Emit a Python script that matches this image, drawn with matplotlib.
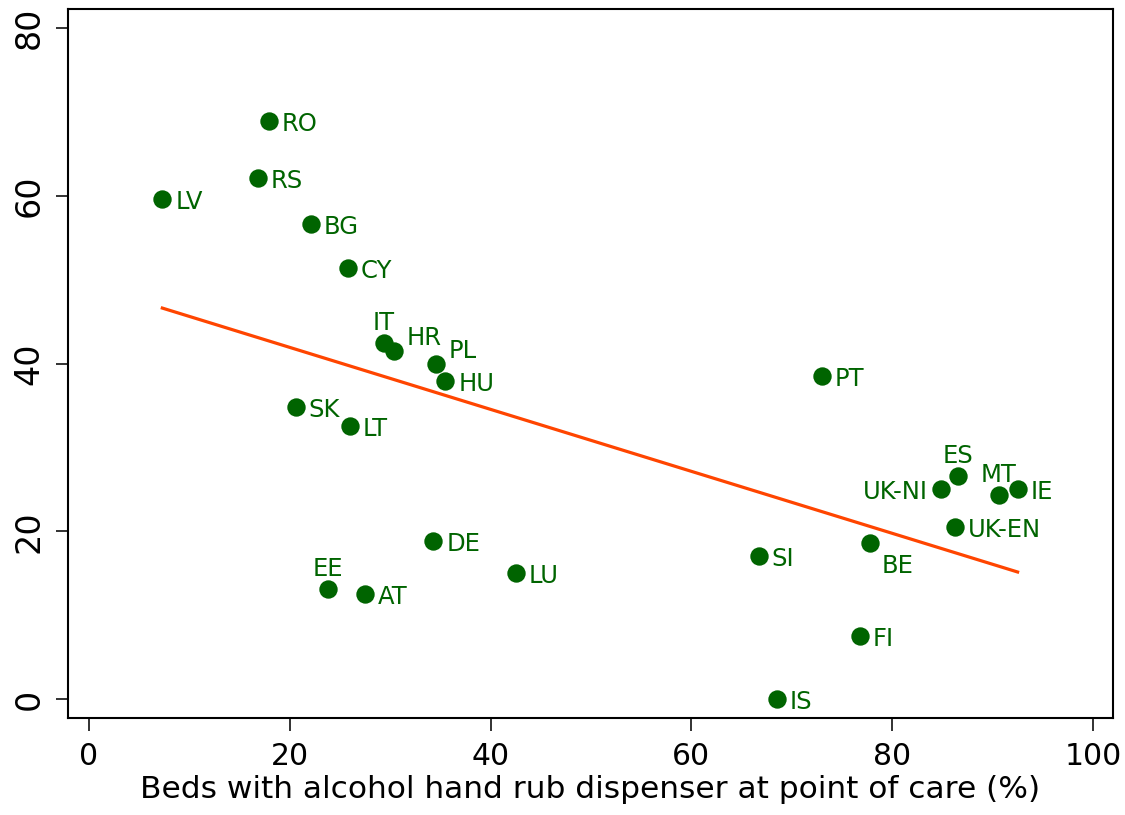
import numpy as np
import matplotlib
matplotlib.use("Agg")
import matplotlib.pyplot as plt

plt.rcParams["font.family"] = ["DejaVu Sans"]

countries = ["RO", "RS", "LV", "BG", "CY", "IT", "HR", "PL", "HU", "PT", "SK", "LT",
             "ES", "UK-NI", "MT", "IE", "UK-EN", "DE", "BE", "SI", "LU", "EE", "AT",
             "FI", "IS"]
dispensers = [17.9, 16.8, 7.3, 22.1, 25.8, 29.4, 30.4, 34.6, 35.5, 73.0, 20.6, 26.0,
              86.6, 84.9, 90.6, 92.5, 86.3, 34.3, 77.8, 66.7, 42.5, 23.8, 27.5,
              76.8, 68.5]
outcome = [68.9, 62.1, 59.6, 56.6, 51.4, 42.4, 41.5, 39.9, 37.9, 38.5, 34.8, 32.5,
           26.6, 25.1, 24.3, 25.1, 20.5, 18.8, 18.6, 17.0, 15.0, 13.1, 12.5,
           7.5, 0.0]
# label position around each marker: r = right, t = above, l = left,
# tr = upper right, br = lower right
label_pos = ["r", "r", "r", "r", "r", "t", "tr", "tr", "r", "r", "r", "r",
             "t", "l", "t", "r", "r", "r", "br", "r", "r", "t", "r",
             "r", "r"]

x_ticks = [0, 20, 40, 60, 80, 100]
y_ticks = [0, 20, 40, 60, 80]
x_label = "Beds with alcohol hand rub dispenser at point of care (%)"

point_color = "#006400"
line_color = "#FF4500"

fig = plt.figure(figsize=(11.25, 8.15), dpi=100)
ax = fig.add_axes([0.0604, 0.119, 0.9289, 0.8703])

ax.scatter(dispensers, outcome, s=175, color=point_color, zorder=3, linewidths=0)

# least-squares fit across the observed range
xs = np.array(dispensers)
ys = np.array(outcome)
slope, intercept = np.polyfit(xs, ys, 1)
xl = np.array([xs.min(), xs.max()])
ax.plot(xl, intercept + slope * xl, color=line_color, lw=2.3, zorder=2)

offsets = {
    "r": ((13, -10), "left"),
    "t": ((0, 13), "center"),
    "l": ((-13, -10), "right"),
    "tr": ((12, 6), "left"),
    "br": ((12, -30), "left"),
}
for name, xv, yv, pos in zip(countries, dispensers, outcome, label_pos):
    (dx, dy), ha = offsets[pos]
    ax.annotate(name, (xv, yv), xytext=(dx, dy), textcoords="offset pixels",
                ha=ha, va="baseline", color=point_color, fontsize=17.5, zorder=4)

ax.set_xlim(-2.1, 102.0)
ax.set_ylim(-2.26, 82.3)
ax.set_xticks(x_ticks)
ax.set_yticks(y_ticks)
ax.tick_params(axis="both", direction="out", length=9, width=1.3, color="#222222")
ax.tick_params(axis="x", labelsize=21.5, pad=8)
ax.tick_params(axis="y", labelsize=24, pad=7)
for lbl in ax.get_yticklabels():
    lbl.set_rotation(90)
    lbl.set_va("center")
for sp in ax.spines.values():
    sp.set_linewidth(1.5)
    sp.set_color("black")

ax.set_xlabel(x_label, fontsize=22.5, labelpad=3)

fig.savefig("out.png", dpi=100)
